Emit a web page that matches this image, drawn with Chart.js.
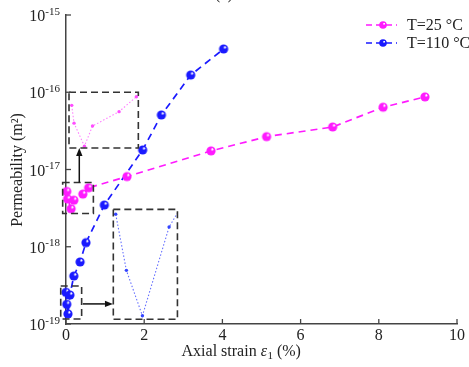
<!DOCTYPE html>
<html><head><meta charset="utf-8">
<script src="https://cdn.jsdelivr.net/npm/chart.js@4/dist/chart.umd.min.js"></script>
<style>html,body{margin:0;padding:0;background:#fff}#wrap{width:469px;height:367px;position:relative}</style>
</head><body><div id="wrap"><canvas id="c" width="469" height="367"></canvas></div>
<script>
// ---- data ----
const seriesLabels = ['T=25 \u00B0C', 'T=110 \u00B0C'];
const strain25 = [0.02, 0.04, 0.13, 0.20, 0.43, 0.58, 1.56, 3.71, 5.13, 6.82, 8.11, 9.18];
const perm25   = [5.2e-18, 4.15e-18, 3.1e-18, 4.0e-18, 4.8e-18, 5.8e-18, 8.1e-18, 1.74e-17, 2.66e-17, 3.55e-17, 6.4e-17, 8.7e-17];
const strain110 = [0, 0.02, 0.05, 0.10, 0.20, 0.36, 0.51, 0.98, 1.96, 2.44, 3.19, 4.03];
const perm110   = [2.57e-19, 1.80e-19, 1.35e-19, 2.37e-19, 4.18e-19, 6.35e-19, 1.13e-18, 3.47e-18, 1.79e-17, 5.08e-17, 1.67e-16, 3.63e-16];
const xTickValues = [0, 2, 4, 6, 8, 10];
const yTickExponents = [-19, -18, -17, -16, -15];
const xTitle = ['Axial strain ', '\u03B5', '1', ' (%)'];
const yTitle = 'Permeability (m\u00B2)';
const panelTitle = '(a)';

// ---- styles ----
const colors = ['#ff1aff', '#1a1aff'];
const SERIF = '"Liberation Serif", "Times New Roman", serif';

function ball(color, r) {
  const c = document.createElement('canvas');
  const s = Math.ceil(r * 2 + 2);
  c.width = s; c.height = s;
  const g = c.getContext('2d');
  const cx = s / 2, cy = s / 2;
  const grad = g.createRadialGradient(cx + r * 0.35, cy - r * 0.4, r * 0.1, cx, cy, r);
  grad.addColorStop(0, '#ffffff');
  grad.addColorStop(0.3, color);
  grad.addColorStop(1, color);
  g.fillStyle = grad;
  g.beginPath(); g.arc(cx, cy, r, 0, Math.PI * 2); g.fill();
  return c;
}
const balls = colors.map(c => ball(c, 4.6));
const legendBalls = colors.map(c => ball(c, 3.8));

const toXY = (xs, ys) => xs.map((x, i) => ({ x, y: ys[i] }));

// zoom windows (source region -> inset box), in data units
const insets = [
  { ds: 0, srcBox: { x0: -0.085, x1: 0.70, y0: 2.7e-18, y1: 6.8e-18 },
    win: { x0: -0.0035, x1: 0.597, y0: 3.03e-18, y1: 6.14e-18 },
    dst: { x0: 0.077, x1: 1.85, y0: 1.9e-17, y1: 1.0e-16 },
    line: '#ff80ff', dot: '#ff4dff',
    arrow: { x0: 0.34, y0: 6.8e-18, x1: 0.34, y1: 1.9e-17 } },
  { ds: 1, srcBox: { x0: -0.135, x1: 0.40, y0: 1.16e-19, y1: 3.1e-19 },
    win: { x0: -0.0045, x1: 0.1156, y0: 1.32e-19, y1: 2.65e-19 },
    dst: { x0: 1.21, x1: 2.85, y0: 1.15e-19, y1: 3.05e-18 },
    line: '#6670ff', dot: '#3344ff',
    arrow: { x0: 0.43, y0: 1.82e-19, x1: 1.20, y1: 1.82e-19 } }
];

function arrow(ctx, x0, y0, x1, y1) {
  const a = Math.atan2(y1 - y0, x1 - x0), L = 8, W = 3.2;
  ctx.beginPath(); ctx.moveTo(x0, y0);
  ctx.lineTo(x1 - L * Math.cos(a), y1 - L * Math.sin(a)); ctx.stroke();
  ctx.beginPath();
  ctx.moveTo(x1, y1);
  ctx.lineTo(x1 - L * Math.cos(a) + W * Math.sin(a), y1 - L * Math.sin(a) - W * Math.cos(a));
  ctx.lineTo(x1 - L * Math.cos(a) - W * Math.sin(a), y1 - L * Math.sin(a) + W * Math.cos(a));
  ctx.closePath(); ctx.fill();
}

const decor = {
  id: 'decor',
  afterDatasetsDraw(chart) {
    const { ctx, scales: { x, y } } = chart;
    ctx.save();
    insets.forEach(ins => {
      const d = chart.data.datasets[ins.ds].data;
      const px = v => x.getPixelForValue(v), py = v => y.getPixelForValue(v);
      const W = { x0: px(ins.win.x0), x1: px(ins.win.x1), y0: py(ins.win.y0), y1: py(ins.win.y1) };
      const D = { x0: px(ins.dst.x0), x1: px(ins.dst.x1), y0: py(ins.dst.y0), y1: py(ins.dst.y1) };
      const mx = v => D.x0 + (px(v) - W.x0) * (D.x1 - D.x0) / (W.x1 - W.x0);
      const my = v => D.y0 + (py(v) - W.y0) * (D.y1 - D.y0) / (W.y1 - W.y0);
      ctx.save();
      ctx.beginPath();
      ctx.rect(D.x0, Math.min(D.y0, D.y1), D.x1 - D.x0, Math.abs(D.y1 - D.y0));
      ctx.clip();
      ctx.strokeStyle = ins.line; ctx.lineWidth = 1.1; ctx.setLineDash([1.5, 2]);
      ctx.beginPath();
      d.forEach((p, i) => { const X = mx(p.x), Y = my(p.y); i ? ctx.lineTo(X, Y) : ctx.moveTo(X, Y); });
      ctx.stroke();
      ctx.setLineDash([]);
      ctx.fillStyle = ins.dot;
      d.forEach(p => { ctx.beginPath(); ctx.arc(mx(p.x), my(p.y), 1.7, 0, Math.PI * 2); ctx.fill(); });
      ctx.restore();
      ctx.strokeStyle = '#333'; ctx.lineWidth = 1.6; ctx.setLineDash([7, 4]);
      [ins.srcBox, ins.dst].forEach(b => {
        const x0 = px(b.x0), x1 = px(b.x1), y0 = py(b.y1), y1 = py(b.y0);
        ctx.strokeRect(x0, y0, x1 - x0, y1 - y0);
      });
      ctx.setLineDash([]);
      ctx.strokeStyle = '#111'; ctx.fillStyle = '#111'; ctx.lineWidth = 1.5;
      arrow(ctx, px(ins.arrow.x0), py(ins.arrow.y0), px(ins.arrow.x1), py(ins.arrow.y1));
    });
    ctx.restore();
  },
  afterDraw(chart) {
    const { ctx, scales: { x, y }, chartArea: ca } = chart;
    ctx.save();
    ctx.strokeStyle = '#444'; ctx.lineWidth = 1.3;
    xTickValues.forEach(v => {
      const X = x.getPixelForValue(v);
      ctx.beginPath(); ctx.moveTo(X, ca.bottom); ctx.lineTo(X, ca.bottom - 5); ctx.stroke();
    });
    yTickExponents.forEach(e => {
      const Y = y.getPixelForValue(Math.pow(10, e));
      ctx.beginPath(); ctx.moveTo(ca.left, Y); ctx.lineTo(ca.left + 5, Y); ctx.stroke();
    });
    ctx.fillStyle = '#222';
    ctx.font = '16px ' + SERIF;
    ctx.textAlign = 'center'; ctx.textBaseline = 'middle';
    xTickValues.forEach(v => ctx.fillText(String(v), x.getPixelForValue(v), ca.bottom + 12));
    yTickExponents.forEach(e => {
      const Y = y.getPixelForValue(Math.pow(10, e));
      ctx.font = '11px ' + SERIF;
      const sup = String(e);
      const sw = ctx.measureText(sup).width;
      const right = ca.left - 6;
      ctx.textAlign = 'left'; ctx.textBaseline = 'alphabetic';
      ctx.fillText(sup, right - sw, Y - 0.5);
      ctx.font = '16px ' + SERIF;
      ctx.textAlign = 'right';
      ctx.fillText('10', right - sw, Y + 6);
    });
    ctx.font = '16px ' + SERIF; ctx.textAlign = 'center'; ctx.textBaseline = 'middle';
    ctx.save(); ctx.translate(18, 170); ctx.rotate(-Math.PI / 2);
    ctx.fillText(yTitle, 0, 0); ctx.restore();
    const fonts = ['16px ' + SERIF, 'italic 16px ' + SERIF, '11px ' + SERIF, '16px ' + SERIF];
    const widths = xTitle.map((t, i) => { ctx.font = fonts[i]; return ctx.measureText(t).width; });
    let tx = 241 - widths.reduce((a, b) => a + b, 0) / 2;
    ctx.textAlign = 'left'; ctx.textBaseline = 'alphabetic';
    xTitle.forEach((t, i) => {
      ctx.font = fonts[i];
      ctx.fillText(t, tx, i === 2 ? 359 : 356);
      tx += widths[i] + (i === 1 ? 0.5 : 0);
    });
    ctx.font = '16px ' + SERIF; ctx.textAlign = 'center';
    ctx.fillText(panelTitle, 224, -1);
    chart.data.datasets.forEach((ds, i) => {
      const Y = 25 + i * 18;
      ctx.strokeStyle = ds.borderColor; ctx.lineWidth = 1.6; ctx.setLineDash([6, 4]);
      ctx.beginPath(); ctx.moveTo(366, Y); ctx.lineTo(397, Y); ctx.stroke();
      ctx.setLineDash([]);
      const b = legendBalls[i];
      ctx.drawImage(b, 383 - b.width / 2, Y - b.height / 2);
      ctx.fillStyle = '#222'; ctx.font = '16px ' + SERIF;
      ctx.textAlign = 'left'; ctx.textBaseline = 'middle';
      ctx.fillText(ds.label, 407, Y + 1);
    });
    ctx.restore();
  }
};

new Chart(document.getElementById('c'), {
  type: 'line',
  data: {
    datasets: [
      { label: seriesLabels[0], data: toXY(strain25, perm25), borderColor: colors[0],
        borderWidth: 1.7, borderDash: [7, 5], pointStyle: balls[0], clip: false, tension: 0 },
      { label: seriesLabels[1], data: toXY(strain110, perm110), borderColor: colors[1],
        borderWidth: 1.7, borderDash: [7, 5], pointStyle: balls[1], clip: false, tension: 0 }
    ]
  },
  options: {
    responsive: false, animation: false, devicePixelRatio: 1,
    layout: { padding: { left: 66, right: 12, top: 15, bottom: 43 } },
    plugins: { legend: { display: false }, tooltip: { enabled: false } },
    scales: {
      x: { type: 'linear', min: 0, max: 10,
           ticks: { display: false }, grid: { display: false },
           border: { display: true, color: '#444', width: 1.5 },
           afterFit: s => { s.height = 0; } },
      y: { type: 'logarithmic', min: 1e-19, max: 1e-15,
           ticks: { display: false }, grid: { display: false },
           border: { display: true, color: '#444', width: 1.5 },
           afterFit: s => { s.width = 0; } }
    }
  },
  plugins: [decor]
});
</script></body></html>
